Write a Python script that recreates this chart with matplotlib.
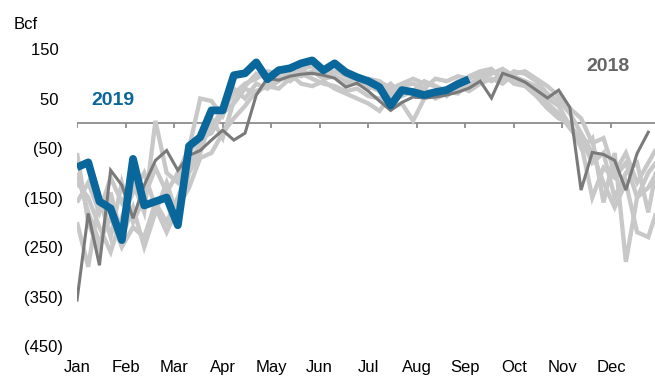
import numpy as np
import matplotlib
matplotlib.use("Agg")
import matplotlib.pyplot as plt
from matplotlib.ticker import FuncFormatter

plt.rcParams['font.family'] = ['Liberation Sans', 'DejaVu Sans']

months = ["Jan", "Feb", "Mar", "Apr", "May", "Jun",
          "Jul", "Aug", "Sep", "Oct", "Nov", "Dec"]

# weekly net storage change, Bcf (week 0 = first week of Jan)
y2019 = [-89, -79, -158, -172, -236, -72, -166, -158, -150, -206,
         -46, -28, 26, 26, 97, 101, 123, 89, 107, 111,
         121, 127, 107, 121, 103, 93, 85, 73, 36, 67,
         63, 57, 63, 67, 79, 89]

y2018 = [-357, -182, -287, -95, -125, -192, -125, -75, -55, -95,
         -65, -55, -34, -14, -34, -20, 57, 91, 87, 95,
         99, 101, 97, 91, 73, 81, 65, 45, 26, 42,
         53, 51, 53, 57, 63, 71, 85, 51, 101, 93,
         83, 67, 51, 67, 32, -135, -59, -63, -75, -135,
         -61, -18]

# earlier years (light grey)
hist = {
    "y1": [-100, -180, -240, -190, -250, -210, -230, -160, -200, -150,
           -90, -40, -10, 30, 60, 80, 90, 105, 100, 110,
           95, 105, 90, 95, 80, 90, 70, 80, 60, 75,
           80, 70, 90, 85, 95, 90, 100, 105, 95, 90,
           80, 60, 40, 20, -10, -40, -150, -90, -110, -80,
           -150, -130, -90],
    "y2": [-160, -120, -180, -110, -160, -120, -180, 5, -100, -120,
           -60, -30, -20, 20, 40, 70, 60, 80, 95, 85,
           100, 90, 80, 75, 65, 70, 55, 50, 30, 40,
           5, 50, 60, 70, 85, 75, 95, 85, 100, 80,
           75, 55, 30, 10, 0, -50, -30, -160, -60, -280,
           -150, -100, -70],
    "y3": [-200, -290, -150, -230, -120, -200, -150, -90, -140, -100,
           -50, 50, 45, 15, 70, 50, 80, 70, 85, 100,
           80, 75, 85, 70, 60, 50, 40, 25, 55, 65,
           60, 70, 50, 60, 70, 95, 105, 110, 85, 105,
           100, 85, 60, 45, 20, -20, -60, -120, -170, -120,
           -220, -230, -160],
    "y4": [-120, -150, -210, -260, -190, -140, -100, -170, -220, -170,
           -130, -70, -60, -20, 10, 35, 65, 75, 70, 90,
           105, 100, 110, 95, 85, 80, 75, 65, 80, 55,
           65, 85, 75, 65, 60, 80, 90, 100, 110, 95,
           85, 75, 50, 35, -5, -30, -80, -60, -150, -100,
           -80, -180, -60],
    "y5": [-60, -200, -260, -140, -230, -170, -250, -180, -120, -190,
           -100, -60, 10, -30, 45, 75, 100, 90, 110, 90,
           110, 115, 100, 105, 95, 85, 90, 85, 70, 80,
           90, 80, 75, 55, 75, 65, 80, 90, 80, 100,
           105, 90, 75, 55, 30, 10, -40, -30, -100, -60,
           -120, -80, -40],
}

yticks = [-450, -350, -250, -150, -50, 50, 150]
month_pos = np.arange(12) * 52 / 12

blue = "#0A679B"
dark = "#7A7A7A"
light = "#C8C8C8"
axis_grey = "#8C8C8C"

fig = plt.figure(figsize=(6.55, 3.82), dpi=100)
ax = fig.add_axes([0.1176, 0.0942, 0.8824, 0.7775])

for name, vals in hist.items():
    ax.plot(np.arange(len(vals)), vals, color=light, lw=3.1,
            solid_joinstyle="miter", solid_capstyle="butt")
ax.plot(np.arange(len(y2018)), y2018, color=dark, lw=2.2,
        solid_joinstyle="miter")
ax.plot(np.arange(len(y2019)), y2019, color=blue, lw=5.6,
        solid_joinstyle="round", solid_capstyle="butt")

# zero line with month ticks
ax.axhline(0, color=axis_grey, lw=1.3, zorder=0.5)
ax.vlines(month_pos, -10, 0, color=axis_grey, lw=1.3, zorder=0.5)

ax.set_xlim(0, 51.6)
ax.set_ylim(-450, 150)
ax.set_xticks(month_pos)
ax.set_xticklabels(months)
ax.set_yticks(yticks)


def fmt(v, pos):
    v = int(round(v))
    return f"({abs(v)})" if v < 0 else f"{v} "


ax.yaxis.set_major_formatter(FuncFormatter(fmt))
ax.tick_params(axis="both", length=0, labelsize=12, colors="black")
ax.tick_params(axis="y", pad=10)
ax.tick_params(axis="x", pad=10)
for s in ax.spines.values():
    s.set_visible(False)

fig.text(0.021, 0.935, "Bcf", fontsize=12, va="center", ha="left")
ax.text(0.025, 0.75 + 45 / 600, "2019", transform=ax.transAxes,
        color=blue, fontsize=14, fontweight="bold", ha="left", va="center")
ax.text(0.919, 0.75 + 115 / 600, "2018", transform=ax.transAxes,
        color="#666666", fontsize=14, fontweight="bold", ha="center", va="center")

fig.savefig("out.png", dpi=100)
